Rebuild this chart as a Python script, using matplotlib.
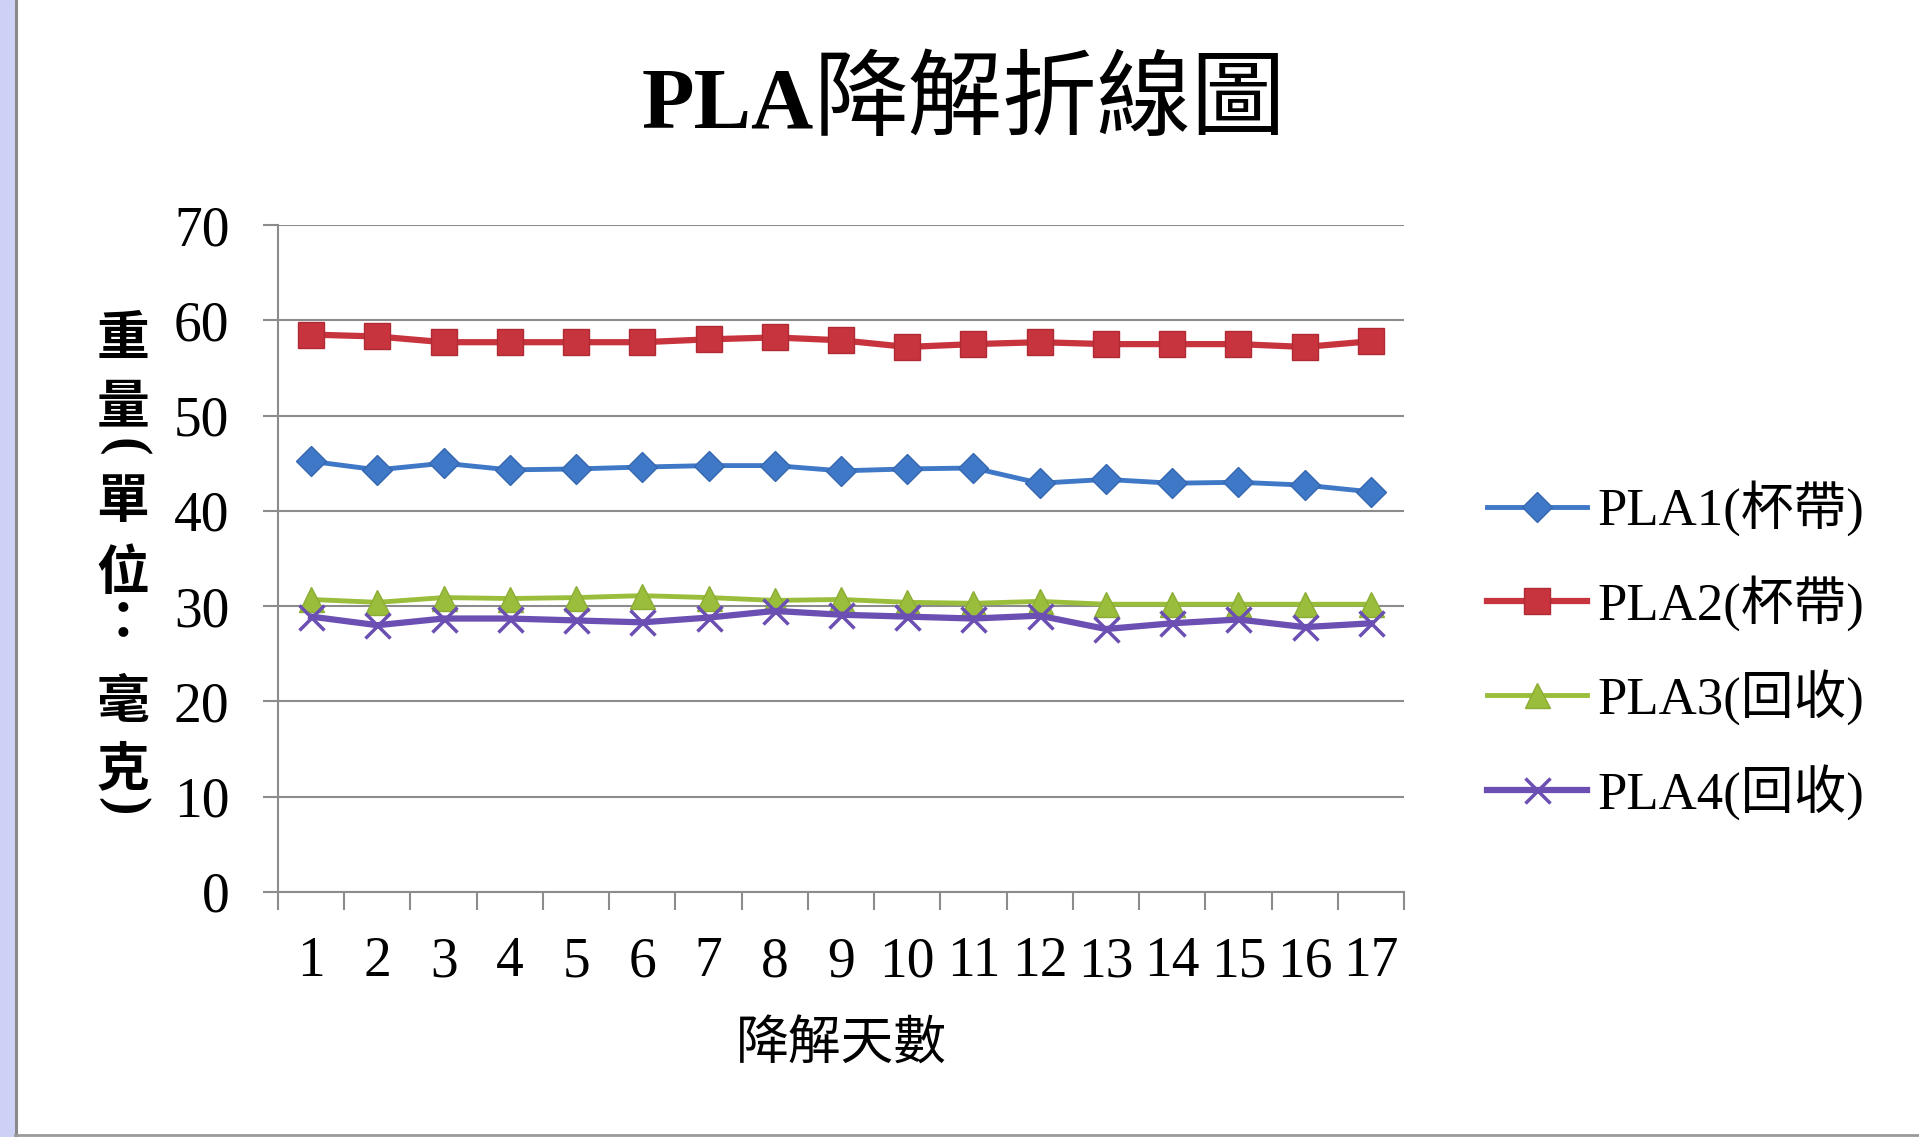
import matplotlib.pyplot as plt
from matplotlib.lines import Line2D
from matplotlib.patches import Rectangle

# 降解天數與四組樣品重量 (毫克)
days = list(range(1, 18))
pla1 = [45.2, 44.3, 45.0, 44.3, 44.4, 44.6, 44.75, 44.75, 44.2, 44.4, 44.5, 42.9, 43.3, 42.9, 43.0, 42.7, 42.0]
pla2 = [58.5, 58.3, 57.7, 57.7, 57.7, 57.7, 58.0, 58.2, 57.9, 57.2, 57.5, 57.7, 57.5, 57.5, 57.5, 57.2, 57.8]
pla3 = [30.7, 30.4, 30.9, 30.8, 30.9, 31.1, 30.9, 30.6, 30.7, 30.4, 30.3, 30.5, 30.2, 30.2, 30.2, 30.2, 30.2]
pla4 = [28.9, 28.0, 28.7, 28.7, 28.5, 28.3, 28.8, 29.5, 29.1, 28.9, 28.7, 29.0, 27.6, 28.2, 28.6, 27.8, 28.2]
series_names = ['PLA1(杯帶)', 'PLA2(杯帶)', 'PLA3(回收)', 'PLA4(回收)']
y_ticks = [0, 10, 20, 30, 40, 50, 60, 70]

plt.rcParams['font.family'] = ['Liberation Serif', 'Noto Sans CJK TC']

W, H = 1919, 1137
fig = plt.figure(figsize=(W / 100, H / 100), dpi=100)
fig.patch.set_facecolor('white')

# 左邊淡紫色邊條與外框
fig.patches.append(Rectangle((0, 0), 14 / W, 1, transform=fig.transFigure,
                             color='#CDD1F6', zorder=0))
fig.lines.append(Line2D([15.5 / W, 15.5 / W], [0, 1], transform=fig.transFigure,
                        color='#8A8A8A', lw=2.2))
fig.lines.append(Line2D([15 / W, 1], [2 / H, 2 / H], transform=fig.transFigure,
                        color='#9A9A9A', lw=2))

ax = fig.add_axes([278 / W, 1 - 892 / H, (1404 - 278) / W, (892 - 225) / H])

grid_col = '#8C8C8C'
ax.plot(days, pla1, color='#3F78C6', lw=3.5, marker='D', ms=15,
        mec='#3568B0', label=series_names[0])
ax.plot(days, pla2, color='#C8343E', lw=4.5, marker='s', ms=19,
        mec='#B02A34', label=series_names[1])
ax.plot(days, pla3, color='#9ABD3C', lw=3.5, marker='^', ms=18,
        mec='#8CAD34', label=series_names[2])
ax.plot(days, pla4, color='#6B4FB2', lw=4.5, marker='x', ms=18, mew=2.5,
        label=series_names[3])

ax.set_ylim(0, 70)
ax.set_yticks(y_ticks)
ax.set_xlim(0.5, 17.5)
ax.set_xticks(days)
ax.set_xticklabels([str(d) for d in days])
ax.set_xticks([d - 0.5 for d in days] + [17.5], minor=True)

ax.grid(axis='y', color=grid_col, lw=1.5)
ax.set_axisbelow(True)
for side in ['top', 'right']:
    ax.spines[side].set_visible(False)
for side in ['left', 'bottom']:
    ax.spines[side].set_color(grid_col)
    ax.spines[side].set_linewidth(1.5)

ax.tick_params(axis='x', which='major', length=0, pad=32, labelsize=40)
ax.tick_params(axis='x', which='minor', length=13, width=1.5, color=grid_col)
ax.tick_params(axis='y', length=11, width=1.5, color=grid_col, pad=24, labelsize=40)

ax.set_xlabel('降解天數', fontsize=38, family='Noto Sans CJK TC')
ax.xaxis.set_label_coords(0.5, -0.187)

# 標題: PLA 粗體, 中文一般字重
title_x = 814 / W
title_y = 1 - 128 / H
fig.text(title_x, title_y, 'PLA', ha='right', va='baseline', fontsize=62,
         fontweight='bold', family='Liberation Serif')
fig.text(title_x, title_y, '降解折線圖', ha='left', va='baseline', fontsize=68,
         family='Noto Sans CJK TC')

# 直排的 y 軸標題
ylabel_chars = ['重', '量', '(', '單', '位', '：', '毫', '克', ')']
ylabel_pos = [339, 407, 447, 501, 573, 623, 702, 770, 806]
for ch, yp in zip(ylabel_chars, ylabel_pos):
    if ch in '()':
        fig.text(123 / W, 1 - yp / H, ch, ha='center', va='center', fontsize=40,
                 fontweight='bold', family='Liberation Serif', rotation=-90)
    else:
        fig.text(123 / W, 1 - yp / H, ch, ha='center', va='center', fontsize=38,
                 fontweight='bold', family='Noto Sans CJK TC')

handles, labels = ax.get_legend_handles_labels()
fig.legend(handles, labels, loc='center left', bbox_to_anchor=(1487 / W, 1 - 650 / H),
           frameon=False, fontsize=38, handlelength=1.9, handletextpad=0.2,
           labelspacing=0.73, borderpad=0, borderaxespad=0, numpoints=1)

fig.savefig('out.png', dpi=100)
